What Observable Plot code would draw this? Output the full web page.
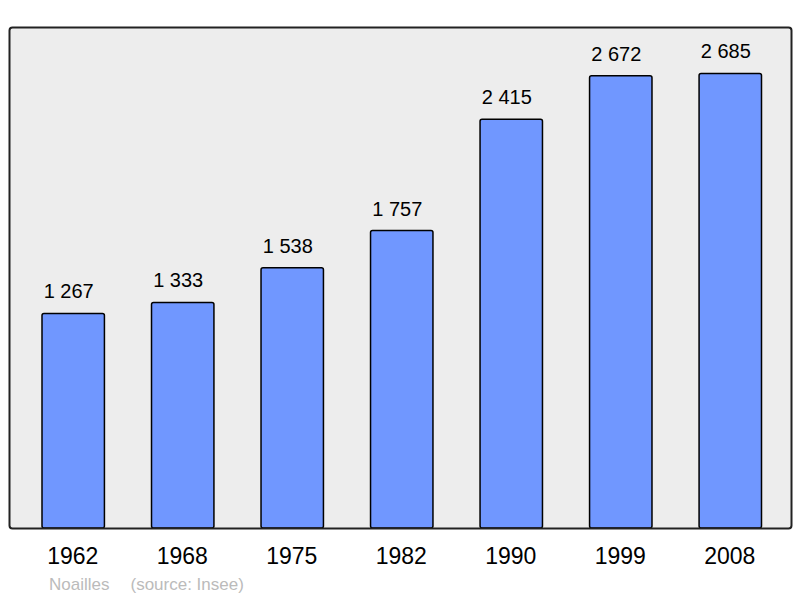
<!DOCTYPE html>
<html>
<head>
<meta charset="utf-8">
<script src="https://cdn.jsdelivr.net/npm/d3@7"></script>
<script src="https://cdn.jsdelivr.net/npm/@observablehq/plot@0.6"></script>
<style>
  html, body { margin: 0; padding: 0; background: #fff; }
  #wrap { position: relative; width: 800px; height: 598px; font-family: "Liberation Sans", Arial, sans-serif; }
  #caption { position: absolute; left: 49px; top: 577px; font-size: 17px; line-height: 16px; color: #bbb; white-space: pre; }
</style>
</head>
<body>
<div id="wrap">
  <div id="chart"></div>
  <div id="caption"><span>Noailles</span><span style="margin-left:21px">(source: Insee)</span></div>
</div>
<script>
const years = ["1962", "1968", "1975", "1982", "1990", "1999", "2008"];
const population = [1267, 1333, 1538, 1757, 2415, 2672, 2685];

const data = years.map((y, i) => ({year: y, value: population[i]}));
const fmt = v => d3.format(",")(v).replace(/,/g, " ");

const chart = Plot.plot({
  width: 800,
  height: 572,
  marginTop: 27,
  marginBottom: 44,
  marginLeft: 9,
  marginRight: 9,
  style: {fontFamily: "Liberation Sans, Arial, sans-serif", background: "transparent"},
  x: {domain: years, range: [42, 761.5], paddingInner: 0.43, paddingOuter: 0, round: false, label: null},
  y: {domain: [0, 2960], axis: null},
  marks: [
    Plot.frame({fill: "#ededed", stroke: "none"}),
    Plot.barY(data, {x: "year", y: "value", fill: "#7097ff", stroke: "#000", strokeWidth: 1.5, rx: 2}),
    Plot.text(data, {x: "year", y: "value", text: d => fmt(d.value), dx: -5, dy: -22, fontSize: 20, fill: "#000"}),
    Plot.frame({stroke: "#222", strokeWidth: 2, rx: 3}),
    Plot.axisX({tickSize: 0, tickPadding: 19, fontSize: 23, dx: -1, fill: "#000"})
  ]
});
document.getElementById("chart").appendChild(chart);
</script>
</body>
</html>
